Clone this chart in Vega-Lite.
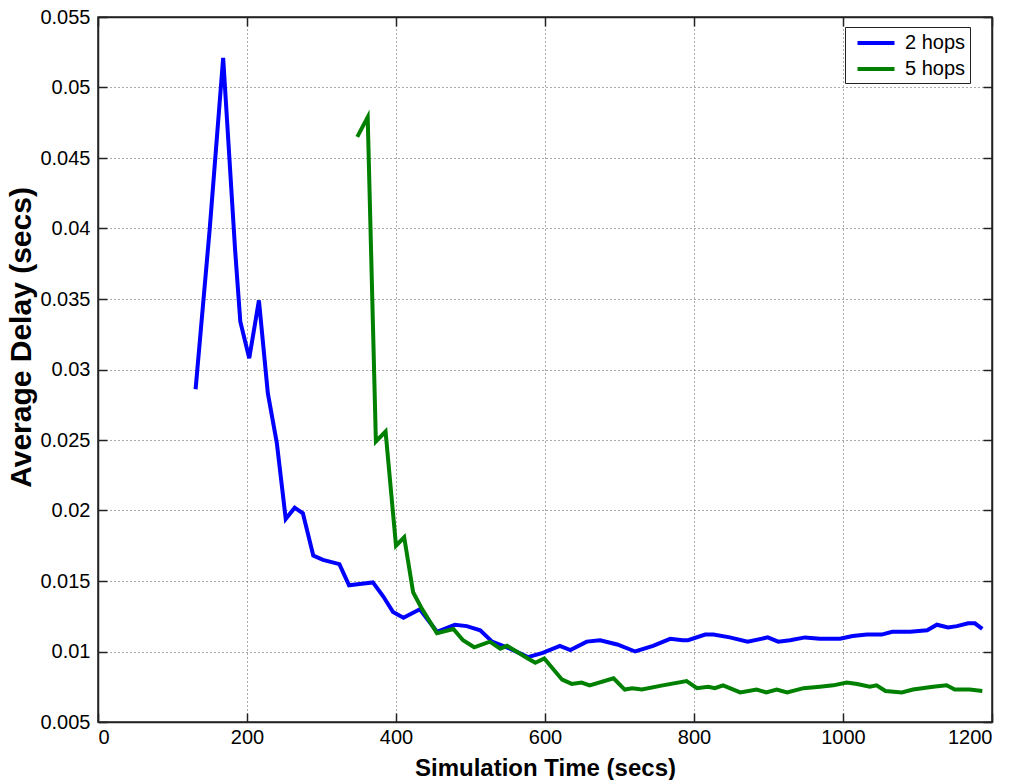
{
  "$schema": "https://vega.github.io/schema/vega-lite/v6.json",
  "width": 894,
  "height": 705,
  "autosize": {"type": "none"},
  "padding": {"left": 98, "top": 17, "right": 29, "bottom": 58},
  "background": "white",
  "config": {
    "font": "Liberation Sans",
    "view": {"stroke": "#222", "strokeWidth": 1.5},
    "axis": {
      "labelFont": "Liberation Sans",
      "labelFontSize": 20,
      "labelColor": "black",
      "titleFont": "Liberation Sans",
      "titleFontWeight": "bold",
      "titleColor": "black",
      "domainColor": "#222",
      "domainWidth": 1.5,
      "tickColor": "#222",
      "tickWidth": 1.5,
      "tickSize": -9,
      "gridColor": "#555",
      "gridDash": [1, 3],
      "gridWidth": 1
    }
  },
  "data": {
    "values": [
      {"t": 131, "d": 0.0286, "s": "2 hops"},
      {"t": 150, "d": 0.0400, "s": "2 hops"},
      {"t": 168, "d": 0.0521, "s": "2 hops"},
      {"t": 184, "d": 0.0385, "s": "2 hops"},
      {"t": 191, "d": 0.0334, "s": "2 hops"},
      {"t": 203, "d": 0.0308, "s": "2 hops"},
      {"t": 216, "d": 0.0349, "s": "2 hops"},
      {"t": 228, "d": 0.0283, "s": "2 hops"},
      {"t": 240, "d": 0.0248, "s": "2 hops"},
      {"t": 252, "d": 0.0194, "s": "2 hops"},
      {"t": 264, "d": 0.0202, "s": "2 hops"},
      {"t": 275, "d": 0.0198, "s": "2 hops"},
      {"t": 289, "d": 0.0168, "s": "2 hops"},
      {"t": 302, "d": 0.0165, "s": "2 hops"},
      {"t": 324, "d": 0.0162, "s": "2 hops"},
      {"t": 337, "d": 0.0147, "s": "2 hops"},
      {"t": 354, "d": 0.0148, "s": "2 hops"},
      {"t": 369, "d": 0.0149, "s": "2 hops"},
      {"t": 383, "d": 0.0139, "s": "2 hops"},
      {"t": 396, "d": 0.0128, "s": "2 hops"},
      {"t": 410, "d": 0.0124, "s": "2 hops"},
      {"t": 432, "d": 0.0130, "s": "2 hops"},
      {"t": 455, "d": 0.0114, "s": "2 hops"},
      {"t": 479, "d": 0.0119, "s": "2 hops"},
      {"t": 495, "d": 0.0118, "s": "2 hops"},
      {"t": 513, "d": 0.0115, "s": "2 hops"},
      {"t": 529, "d": 0.0107, "s": "2 hops"},
      {"t": 553, "d": 0.0102, "s": "2 hops"},
      {"t": 577, "d": 0.0096, "s": "2 hops"},
      {"t": 597, "d": 0.0099, "s": "2 hops"},
      {"t": 620, "d": 0.0104, "s": "2 hops"},
      {"t": 634, "d": 0.0101, "s": "2 hops"},
      {"t": 656, "d": 0.0107, "s": "2 hops"},
      {"t": 674, "d": 0.0108, "s": "2 hops"},
      {"t": 697, "d": 0.0105, "s": "2 hops"},
      {"t": 721, "d": 0.0100, "s": "2 hops"},
      {"t": 745, "d": 0.0104, "s": "2 hops"},
      {"t": 768, "d": 0.0109, "s": "2 hops"},
      {"t": 785, "d": 0.0108, "s": "2 hops"},
      {"t": 792, "d": 0.0108, "s": "2 hops"},
      {"t": 815, "d": 0.0112, "s": "2 hops"},
      {"t": 826, "d": 0.0112, "s": "2 hops"},
      {"t": 848, "d": 0.0110, "s": "2 hops"},
      {"t": 872, "d": 0.0107, "s": "2 hops"},
      {"t": 899, "d": 0.0110, "s": "2 hops"},
      {"t": 913, "d": 0.0107, "s": "2 hops"},
      {"t": 929, "d": 0.0108, "s": "2 hops"},
      {"t": 949, "d": 0.0110, "s": "2 hops"},
      {"t": 969, "d": 0.0109, "s": "2 hops"},
      {"t": 996, "d": 0.0109, "s": "2 hops"},
      {"t": 1013, "d": 0.0111, "s": "2 hops"},
      {"t": 1032, "d": 0.0112, "s": "2 hops"},
      {"t": 1052, "d": 0.0112, "s": "2 hops"},
      {"t": 1066, "d": 0.0114, "s": "2 hops"},
      {"t": 1090, "d": 0.0114, "s": "2 hops"},
      {"t": 1113, "d": 0.0115, "s": "2 hops"},
      {"t": 1126, "d": 0.0119, "s": "2 hops"},
      {"t": 1141, "d": 0.0117, "s": "2 hops"},
      {"t": 1153, "d": 0.0118, "s": "2 hops"},
      {"t": 1168, "d": 0.0120, "s": "2 hops"},
      {"t": 1177, "d": 0.0120, "s": "2 hops"},
      {"t": 1187, "d": 0.0116, "s": "2 hops"},

      {"t": 348, "d": 0.0465, "s": "5 hops"},
      {"t": 362, "d": 0.0479, "s": "5 hops"},
      {"t": 373, "d": 0.0249, "s": "5 hops"},
      {"t": 386, "d": 0.0256, "s": "5 hops"},
      {"t": 400, "d": 0.0175, "s": "5 hops"},
      {"t": 411, "d": 0.0181, "s": "5 hops"},
      {"t": 423, "d": 0.0142, "s": "5 hops"},
      {"t": 434, "d": 0.0131, "s": "5 hops"},
      {"t": 455, "d": 0.0113, "s": "5 hops"},
      {"t": 477, "d": 0.0116, "s": "5 hops"},
      {"t": 490, "d": 0.0108, "s": "5 hops"},
      {"t": 505, "d": 0.0103, "s": "5 hops"},
      {"t": 526, "d": 0.0107, "s": "5 hops"},
      {"t": 540, "d": 0.0102, "s": "5 hops"},
      {"t": 549, "d": 0.0104, "s": "5 hops"},
      {"t": 577, "d": 0.0095, "s": "5 hops"},
      {"t": 587, "d": 0.0092, "s": "5 hops"},
      {"t": 599, "d": 0.0095, "s": "5 hops"},
      {"t": 623, "d": 0.0080, "s": "5 hops"},
      {"t": 636, "d": 0.0077, "s": "5 hops"},
      {"t": 649, "d": 0.0078, "s": "5 hops"},
      {"t": 660, "d": 0.0076, "s": "5 hops"},
      {"t": 692, "d": 0.0081, "s": "5 hops"},
      {"t": 707, "d": 0.0073, "s": "5 hops"},
      {"t": 717, "d": 0.0074, "s": "5 hops"},
      {"t": 730, "d": 0.0073, "s": "5 hops"},
      {"t": 758, "d": 0.0076, "s": "5 hops"},
      {"t": 790, "d": 0.0079, "s": "5 hops"},
      {"t": 804, "d": 0.0074, "s": "5 hops"},
      {"t": 819, "d": 0.0075, "s": "5 hops"},
      {"t": 828, "d": 0.0074, "s": "5 hops"},
      {"t": 839, "d": 0.0076, "s": "5 hops"},
      {"t": 862, "d": 0.0071, "s": "5 hops"},
      {"t": 884, "d": 0.0073, "s": "5 hops"},
      {"t": 897, "d": 0.0071, "s": "5 hops"},
      {"t": 911, "d": 0.0073, "s": "5 hops"},
      {"t": 925, "d": 0.0071, "s": "5 hops"},
      {"t": 947, "d": 0.0074, "s": "5 hops"},
      {"t": 969, "d": 0.0075, "s": "5 hops"},
      {"t": 987, "d": 0.0076, "s": "5 hops"},
      {"t": 1005, "d": 0.0078, "s": "5 hops"},
      {"t": 1019, "d": 0.0077, "s": "5 hops"},
      {"t": 1036, "d": 0.0075, "s": "5 hops"},
      {"t": 1045, "d": 0.0076, "s": "5 hops"},
      {"t": 1057, "d": 0.0072, "s": "5 hops"},
      {"t": 1079, "d": 0.0071, "s": "5 hops"},
      {"t": 1094, "d": 0.0073, "s": "5 hops"},
      {"t": 1121, "d": 0.0075, "s": "5 hops"},
      {"t": 1139, "d": 0.0076, "s": "5 hops"},
      {"t": 1150, "d": 0.0073, "s": "5 hops"},
      {"t": 1170, "d": 0.0073, "s": "5 hops"},
      {"t": 1187, "d": 0.0072, "s": "5 hops"}
    ]
  },
  "resolve": {"axis": {"x": "independent", "y": "independent"}},
  "layer": [
    {
      "mark": {"type": "line", "strokeWidth": 4, "strokeJoin": "miter", "clip": true},
      "encoding": {
        "x": {
          "field": "t",
          "type": "quantitative",
          "scale": {"domain": [0, 1200], "nice": false, "zero": false},
          "axis": {
            "orient": "bottom",
            "grid": true,
            "values": [0, 200, 400, 600, 800, 1000, 1200],
            "format": "d",
            "title": "Simulation Time (secs)",
            "titleFontSize": 24,
            "labelPadding": 14,
            "titlePadding": 9
          }
        },
        "y": {
          "field": "d",
          "type": "quantitative",
          "scale": {"domain": [0.005, 0.055], "nice": false, "zero": false},
          "axis": {
            "orient": "left",
            "grid": true,
            "values": [0.005, 0.01, 0.015, 0.02, 0.025, 0.03, 0.035, 0.04, 0.045, 0.05, 0.055],
            "format": "~g",
            "title": "Average Delay (secs)",
            "titleFontSize": 30,
            "titleY": 320,
            "labelPadding": 17,
            "titlePadding": 3
          }
        },
        "color": {
          "field": "s",
          "type": "nominal",
          "scale": {"domain": ["2 hops", "5 hops"], "range": ["#0000ff", "#008000"]},
          "legend": {
            "title": null,
            "orient": "none",
            "legendX": 747,
            "legendY": 10,
            "padding": 4,
            "strokeColor": "#222",
            "fillColor": "white",
            "labelFont": "Liberation Sans",
            "labelFontSize": 20,
            "labelColor": "black",
            "labelOffset": 17,
            "symbolOffset": 15,
            "symbolType": "M-1.85,0H1.85",
            "symbolSize": 400,
            "symbolStrokeWidth": 4,
            "rowPadding": 4
          }
        }
      }
    },
    {
      "mark": {"type": "line", "opacity": 0},
      "encoding": {
        "x": {
          "field": "t",
          "type": "quantitative",
          "axis": {"orient": "top", "grid": false, "labels": false, "title": null, "values": [0, 200, 400, 600, 800, 1000, 1200]}
        },
        "y": {
          "field": "d",
          "type": "quantitative",
          "axis": {"orient": "right", "grid": false, "labels": false, "title": null, "values": [0.005, 0.01, 0.015, 0.02, 0.025, 0.03, 0.035, 0.04, 0.045, 0.05, 0.055]}
        }
      }
    }
  ]
}
